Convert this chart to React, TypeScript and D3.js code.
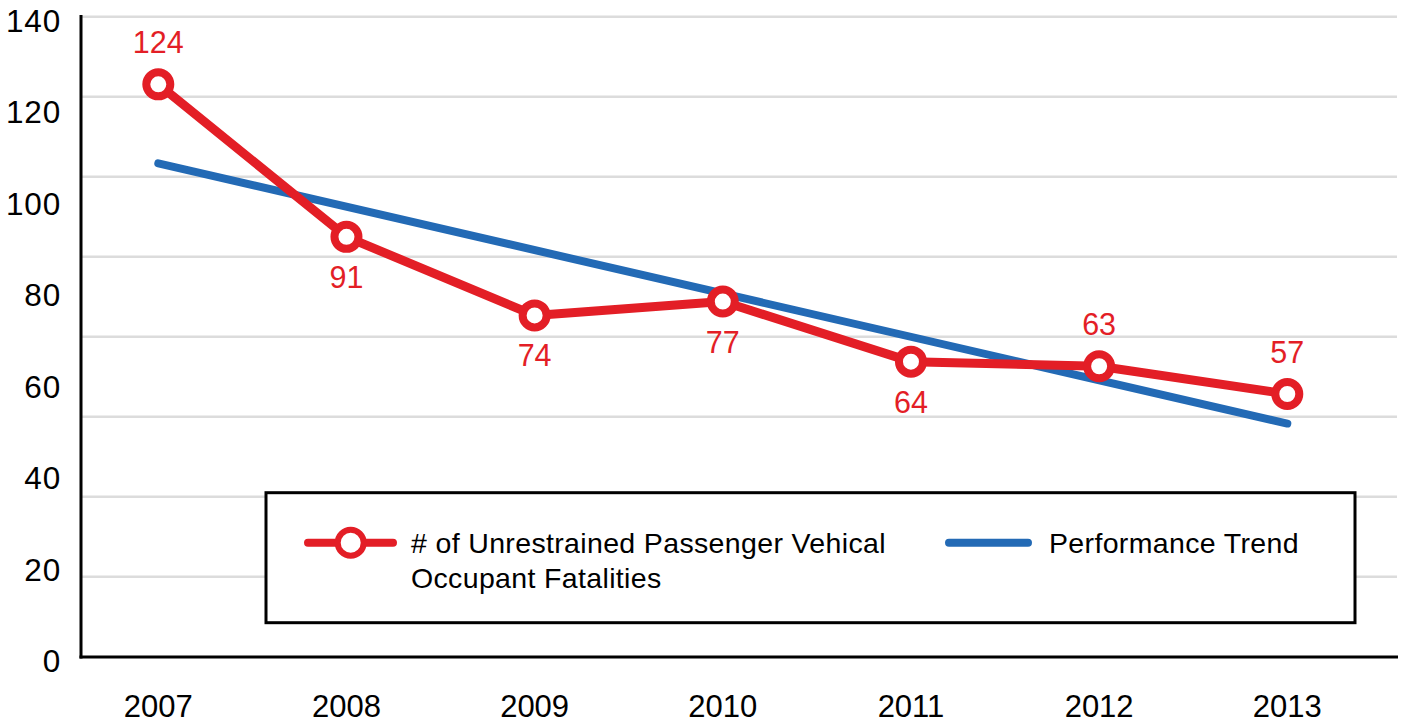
import React from "react";
import * as d3 from "d3";

const years = ["2007", "2008", "2009", "2010", "2011", "2012", "2013"];
const fatalities = [124, 91, 74, 77, 64, 63, 57];
const labelPlacement = ["above", "below", "below", "below", "below", "above", "above"];
const trendYears = ["2007", "2013"];
const trendValues = [106.9, 50.6];
const yTickLabels = [0, 20, 40, 60, 80, 100, 120, 140];
const gridSteps = [1, 2, 3, 4, 5, 6, 7, 8];
const seriesName = ["# of Unrestrained Passenger Vehical", "Occupant Fatalities"];
const trendName = "Performance Trend";

const W = 1403;
const H = 723;
const FONT = "'Liberation Sans', Arial, Helvetica, sans-serif";
const RED = "#e31e26";
const BLUE = "#236ab5";
const GRID = "#dcdcdc";

export default function App() {
  const plotLeft = 81;
  const plotRight = 1398;
  const axisY = 657;

  const x = d3.scalePoint<string>().domain(years).range([158.3, 1287.3]);
  const y = d3.scaleLinear().domain([0, 140]).range([657.4, 10.4]);
  const grid = d3.scaleLinear().domain([0, 8]).range([656.7, 16.7]);
  const yLabel = d3.scaleLinear().domain([0, 140]).range([672, 31.7]);

  const line = d3
    .line<number>()
    .x((_, i) => x(years[i]) as number)
    .y((d) => y(d));
  const trendLine = d3
    .line<number>()
    .x((_, i) => x(trendYears[i]) as number)
    .y((d) => y(d));

  const legend = { x0: 266, y0: 492.7, x1: 1355, y1: 622.7 };

  return (
    <svg
      width={W}
      height={H}
      style={{ position: "absolute", left: 0, top: 0, background: "#fff" }}
      fontFamily={FONT}
    >
      <rect x={0} y={0} width={W} height={H} fill="#fff" />
      {/* gridlines */}
      {gridSteps.map((g) => (
        <line
          key={g}
          x1={plotLeft}
          x2={plotRight - 1}
          y1={grid(g)}
          y2={grid(g)}
          stroke={GRID}
          strokeWidth={2.6}
        />
      ))}
      {/* axes */}
      <line x1={plotLeft} x2={plotLeft} y1={15} y2={axisY + 1.5} stroke="#000" strokeWidth={3} />
      <line x1={plotLeft - 1.5} x2={plotRight} y1={axisY} y2={axisY} stroke="#000" strokeWidth={3} />
      {/* y labels */}
      {yTickLabels.map((t) => (
        <text key={t} x={61} y={yLabel(t)} textAnchor="end" fontSize={31.5} letterSpacing={0.8} fill="#000">
          {t}
        </text>
      ))}
      {/* x labels */}
      {years.map((yr) => (
        <text key={yr} x={x(yr)} y={717} textAnchor="middle" fontSize={31} fill="#000">
          {yr}
        </text>
      ))}
      {/* trend */}
      <path
        d={trendLine(trendValues) || ""}
        fill="none"
        stroke={BLUE}
        strokeWidth={8}
        strokeLinecap="round"
      />
      {/* series */}
      <path
        d={line(fatalities) || ""}
        fill="none"
        stroke={RED}
        strokeWidth={9}
        strokeLinejoin="round"
      />
      {fatalities.map((v, i) => (
        <circle
          key={i}
          cx={x(years[i])}
          cy={y(v)}
          r={12}
          fill="#fff"
          stroke={RED}
          strokeWidth={8}
        />
      ))}
      {fatalities.map((v, i) => (
        <text
          key={"l" + i}
          x={x(years[i])}
          y={y(v) + (labelPlacement[i] === "above" ? -31 : 51)}
          textAnchor="middle"
          fontSize={30.5}
          fill={RED}
        >
          {v}
        </text>
      ))}
      {/* legend */}
      <rect
        x={legend.x0}
        y={legend.y0}
        width={legend.x1 - legend.x0}
        height={legend.y1 - legend.y0}
        fill="#fff"
        stroke="#000"
        strokeWidth={3}
      />
      <line x1={308} x2={393} y1={542.7} y2={542.7} stroke={RED} strokeWidth={8} strokeLinecap="round" />
      <circle cx={350.7} cy={542.7} r={13} fill="#fff" stroke={RED} strokeWidth={6} />
      <text x={411} y={552.7} fontSize={28.5} letterSpacing={0.35} fill="#000">
        {seriesName[0]}
      </text>
      <text x={411} y={588} fontSize={28.5} letterSpacing={0.35} fill="#000">
        {seriesName[1]}
      </text>
      <line x1={949} x2={1028} y1={542.7} y2={542.7} stroke={BLUE} strokeWidth={8} strokeLinecap="round" />
      <text x={1049} y={552.7} fontSize={28.5} letterSpacing={0.35} fill="#000">
        {trendName}
      </text>
    </svg>
  );
}
